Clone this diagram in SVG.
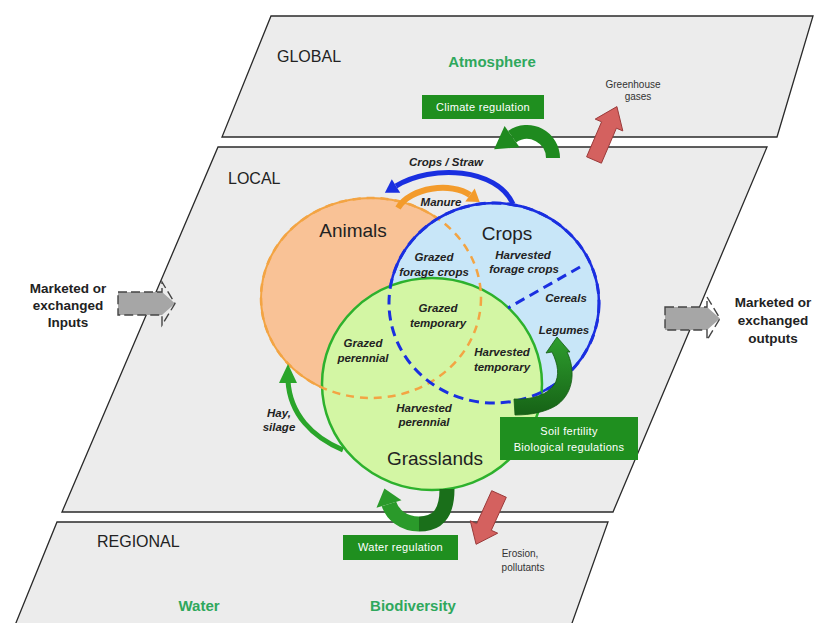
<svg xmlns="http://www.w3.org/2000/svg" width="816" height="623" viewBox="0 0 816 623">
<defs>
<style>
.plane{fill:#ececec;stroke:#2a2a2a;stroke-width:1.3}
.lvl{font-family:"Liberation Sans",Arial,sans-serif;font-size:16px;fill:#222}
.env{font-family:"Liberation Sans",Arial,sans-serif;font-size:15px;font-weight:bold;fill:#2fa85c;text-anchor:middle}
.box{fill:#1f8f1f}
.boxt{font-family:"Liberation Sans",Arial,sans-serif;font-size:11px;fill:#fff;text-anchor:middle;letter-spacing:0.3px}
.lab{font-family:"Liberation Sans",Arial,sans-serif;font-size:11.5px;font-weight:bold;font-style:italic;fill:#222;text-anchor:middle}
.big{font-family:"Liberation Sans",Arial,sans-serif;font-size:19px;fill:#222;text-anchor:middle}
.small{font-family:"Liberation Sans",Arial,sans-serif;font-size:10px;fill:#333;text-anchor:middle}
.mkt{font-family:"Liberation Sans",Arial,sans-serif;font-size:13.5px;font-weight:bold;fill:#222;text-anchor:middle}
.red{fill:#d4615f;stroke:#9a3a3a;stroke-width:1}
.gray{fill:#a6a6a6}
.grayo{fill:none;stroke:#444;stroke-width:1.4;stroke-dasharray:9 4}
</style>
<linearGradient id="gv" x1="0" y1="0" x2="0" y2="1">
<stop offset="0" stop-color="#2e9e2e"/>
<stop offset="1" stop-color="#166216"/>
</linearGradient>
</defs>

<g id="layer-global">
<polygon class="plane" points="271,16 813,16 777,137 222,137"/>
<text class="lvl" x="277" y="62">GLOBAL</text>
<text class="env" x="492" y="67">Atmosphere</text>
<text class="small" x="633" y="88">Greenhouse</text>
<text class="small" x="638" y="100">gases</text>
</g>

<g id="layer-local">
<polygon class="plane" points="218,147 767,147 613,512 62,512"/>
<text class="lvl" x="228" y="184">LOCAL</text>
</g>

<g id="layer-regional">
<polygon class="plane" points="57,522 608,522 566,640 9,640"/>
<text class="lvl" x="97" y="547">REGIONAL</text>
<text class="env" x="199" y="611">Water</text>
<text class="env" x="413" y="611">Biodiversity</text>
<text class="small" x="520" y="557">Erosion,</text>
<text class="small" x="523" y="571">pollutants</text>
</g>

<g id="node-animals">
<ellipse cx="371" cy="298" rx="110" ry="100" fill="#f9c296" stroke="#f3a443" stroke-width="2"/>
</g>
<g id="node-crops">
<ellipse cx="494" cy="303" rx="105" ry="100" fill="#c8e6f8" stroke="#1a2fe0" stroke-width="2.5"/>
</g>
<g id="node-grasslands">
<ellipse cx="432" cy="384" rx="110" ry="106" fill="#d3f6a4" stroke="#2db12d" stroke-width="2.5"/>
</g>
<g id="overlaps">
<ellipse cx="371" cy="298" rx="110" ry="100" fill="none" stroke="#f3a443" stroke-width="2.5" stroke-dasharray="8 6"/>
<ellipse cx="494" cy="303" rx="105" ry="100" fill="none" stroke="#1a2fe0" stroke-width="3" stroke-dasharray="10 6"/>
<line x1="580" y1="267" x2="508" y2="308" stroke="#1a2fe0" stroke-width="3" stroke-dasharray="10 6"/>
</g>

<g id="labels">
<text class="big" x="353" y="237">Animals</text>
<text class="big" x="507" y="240">Crops</text>
<text class="big" x="435" y="465">Grasslands</text>
<text class="lab" x="434" y="261">Grazed</text>
<text class="lab" x="434" y="276">forage crops</text>
<text class="lab" x="523" y="259">Harvested</text>
<text class="lab" x="524" y="273">forage crops</text>
<text class="lab" x="566" y="302">Cereals</text>
<text class="lab" x="438" y="312">Grazed</text>
<text class="lab" x="438" y="327">temporary</text>
<text class="lab" x="363" y="347">Grazed</text>
<text class="lab" x="363" y="362">perennial</text>
<text class="lab" x="502" y="356">Harvested</text>
<text class="lab" x="502" y="371">temporary</text>
<text class="lab" x="564" y="334">Legumes</text>
<text class="lab" x="424" y="412">Harvested</text>
<text class="lab" x="424" y="426">perennial</text>
<text class="lab" x="279" y="417">Hay,</text>
<text class="lab" x="279" y="431">silage</text>
<text class="lab" x="446" y="166">Crops / Straw</text>
<text class="lab" x="441" y="206">Manure</text>
</g>

<g id="connectors">
<path d="M513,204 C497,168 432,164 396,186" fill="none" stroke="#1a2fe0" stroke-width="5"/>
<polygon points="400.2,192.8 391.8,179.2 384.9,192.8" fill="#1a2fe0"/>
<path d="M398,208 C410,187 452,182 470,195" fill="none" stroke="#f39b2b" stroke-width="6"/>
<polygon points="465.3,201.5 474.7,188.5 479.7,202" fill="#f39b2b"/>
<path d="M343,450 C312,437 290,414 288,381" fill="none" stroke="#2aa52a" stroke-width="5"/>
<polygon points="279,383 297,383 288,364" fill="#2aa52a"/>
<path d="M557,337 L570,352 L567,352 C575,368 575,392 557,405 C546,412 531,415 515,415 L514,399 C532,400 547,395 554,385 C560,376 558,364 552,352 L546,353 Z" fill="url(#gv)" stroke="#135a13" stroke-width="0.8"/>
<path d="M553,158 A26,26 0 0 0 512.1,136.7" fill="none" stroke="#1f8a1f" stroke-width="14"/>
<polygon points="504.6,126.1 519.6,147.3 494.1,149.3" fill="#1f8a1f"/>
<path d="M447,489 C447,514 437,524 419,524" fill="none" stroke="#1a6f1a" stroke-width="15"/>
<path d="M419,524 C403,524 392,514 389,504" fill="none" stroke="#2a9a2a" stroke-width="15"/>
<polygon points="401.5,500.2 376.5,507.8 384.4,488.6" fill="#2a9a2a"/>
<polygon class="red" points="586.6,156.8 601.6,121.8 595.2,119.1 616.9,106.6 622.8,130.9 616.4,128.2 601.4,163.2"/>
<polygon class="red" points="491.7,490.7 506.3,497.3 491.3,530.3 497.7,533.2 476.1,544.3 470.3,520.8 476.7,523.7"/>
<polygon class="gray" points="118,292 162,292 175,303.5 162,315 118,315"/>
<path class="grayo" d="M118,292 H162 V282 L175,303.5 L162,325 V315 H118 Z"/>
<polygon class="gray" points="665,307 707,307 720,318.5 707,330 665,330"/>
<path class="grayo" d="M665,307 H707 V297 L720,318.5 L707,340 V330 H665 Z"/>
</g>

<g id="boxes">
<rect class="box" x="422" y="95" width="122" height="24"/>
<text class="boxt" x="483" y="111">Climate regulation</text>
<rect class="box" x="500" y="417" width="138" height="43"/>
<text class="boxt" x="569" y="435">Soil fertility</text>
<text class="boxt" x="569" y="451">Biological regulations</text>
<rect class="box" x="343" y="535" width="115" height="25"/>
<text class="boxt" x="400.5" y="551">Water regulation</text>
</g>

<g id="side-texts">
<text class="mkt" x="68" y="293">Marketed or</text>
<text class="mkt" x="68" y="310">exchanged</text>
<text class="mkt" x="68" y="327">Inputs</text>
<text class="mkt" x="773" y="307">Marketed or</text>
<text class="mkt" x="773" y="325">exchanged</text>
<text class="mkt" x="773" y="343">outputs</text>
</g>
</svg>
